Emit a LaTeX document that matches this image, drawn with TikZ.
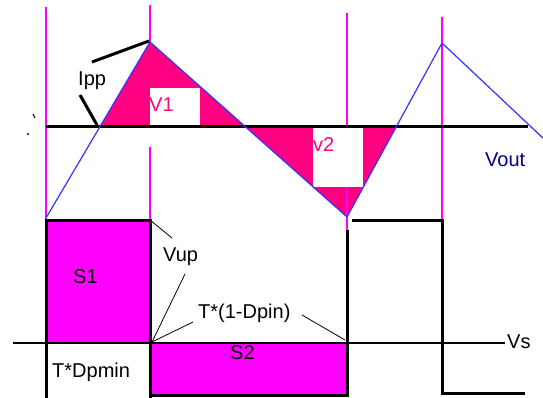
\documentclass[tikz,border=0pt]{standalone}
\usepackage{fontspec}
\setmainfont{Liberation Sans}
\definecolor{vpink}{RGB}{255,0,128}
\definecolor{smag}{RGB}{255,0,255}
\definecolor{wblue}{RGB}{51,51,255}
\definecolor{navy}{RGB}{0,0,128}
\tikzset{
  lbl/.style={inner sep=0pt, anchor=base west, font=\fontsize{20}{23}\selectfont},
  mline/.style={draw=smag, line width=1.2pt},
  thickblk/.style={draw=black, line width=3pt},
  leader/.style={draw=black, line width=0.8pt},
  wave/.style={draw=wblue, line width=1.2pt, line join=round}
}
\begin{document}
\begin{tikzpicture}[x=1pt,y=-1pt]
\useasboundingbox (0,0) rectangle (543,398);
\fill[white] (0,0) rectangle (543,398);
% fills of the ripple areas
\fill[vpink] (99.8,127) -- (150,42) -- (245.7,127) -- cycle;
\fill[white] (150,88) rectangle (200,127);
\fill[vpink] (245.7,127) -- (347,217) -- (396.1,127) -- cycle;
\fill[white] (313,127) rectangle (363,187);
% switch fills
\fill[smag] (46,220) rectangle (150,343);
\fill[smag] (150,343) rectangle (347,395);
% magenta time markers
\draw[mline] (46,7) -- (46,220);
\draw[mline] (150,5) -- (150,42);
\draw[mline] (150,147) -- (150,220);
\draw[mline] (347,13) -- (347,127);
\draw[mline] (347,187) -- (347,230);
\draw[mline] (442,17) -- (442,220);
% axis
\draw[thickblk] (46,127) -- (528,127);
% triangle wave
\draw[wave] (46,218) -- (150,42) -- (347,217) -- (442,43) -- (545,140);
% Ipp markers
\draw[thickblk] (92,62) -- (149,41);
\draw[thickblk] (80,95) -- (97,125);
% tiny marks
\draw[line width=1pt] (33,114) -- (35,118);
\fill (28,134) circle (1.1pt);
% Vs line
\draw[line width=1.2pt] (13,343) -- (505,343);
% square wave
\draw[thickblk, line cap=butt] (46,398) -- (46,220) -- (150,220) -- (150,398);
\draw[thickblk] (150,395) -- (347,395) -- (347,230);
\draw[thickblk] (352,220) -- (442,220) -- (442,393) -- (525,393);
% labels
\node[lbl] (ipp) at (78,86) {Ipp};
\node[lbl, text=vpink] (v1) at (149,112) {V1};
\node[lbl, text=vpink] (v2) at (313,152) {v2};
\node[lbl, text=navy] (vout) at (485,167) {Vout};
\node[lbl] (s1) at (73,283) {S1};
\node[lbl] (vup) at (163,261) {Vup};
\node[lbl] (t1d) at (198,318) {T*(1-Dpin)};
\node[lbl] (s2) at (230,359) {S2};
\node[lbl] (tdp) at (52,377) {T*Dpmin};
\node[lbl] (vs) at (507,348) {Vs};
% leaders
\coordinate (c1) at (150,220);
\coordinate (c2) at (152,342);
\coordinate (c3) at (345,340);
\draw[leader] (c1) -- (172,238);
\draw[leader] (185,274) -- (c2);
\draw[leader] (193,322) -- (c2);
\draw[leader] (302,315) -- (c3);
\end{tikzpicture}
\end{document}
